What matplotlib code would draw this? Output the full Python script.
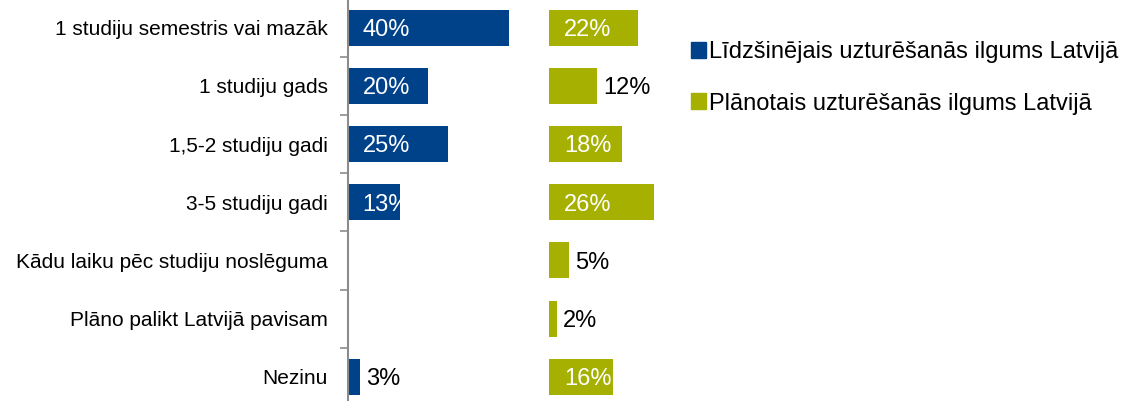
import matplotlib
matplotlib.use("Agg")
import matplotlib.pyplot as plt
import numpy as np
from matplotlib.patches import Patch

plt.rcParams['font.family'] = ['Liberation Sans', 'DejaVu Sans']

categories = ["1 studiju semestris vai mazāk", "1 studiju gads", "1,5-2 studiju gadi",
              "3-5 studiju gadi", "Kādu laiku pēc studiju noslēguma",
              "Plāno palikt Latvijā pavisam", "Nezinu"]
past = [40, 20, 25, 13, 0, 0, 3]        # Līdzšinējais
planned = [22, 12, 18, 26, 5, 2, 16]    # Plānotais
series_names = ["Līdzšinējais uzturēšanās ilgums Latvijā",
                "Plānotais uzturēšanās ilgums Latvijā"]

blue = "#00428A"
green = "#A5B000"
offset = 50  # green group starts here on the shared axis

fig = plt.figure(figsize=(11.27, 4.01), dpi=100)
W, H = 1127, 401
slot = 58.2
top = -1.5
ax = fig.add_axes([347.5 / W, 1 - (top + 7 * slot) / H, 403 / W, 7 * slot / H])
ax.set_xlim(0, 100)
ax.set_ylim(7, 0)

y = np.arange(len(categories)) + 0.5
bars1 = ax.barh(y, past, height=0.62, color=blue, left=0)
bars2 = ax.barh(y, planned, height=0.62, color=green, left=offset)

px = 100 / 403.0  # data units per pixel
for bars, vals, start in [(bars1, past, 0), (bars2, planned, offset)]:
    for b, v, yy in zip(bars, vals, y):
        if v == 0:
            continue
        if v >= 13:
            t = ax.text(start + 15 * px, yy, f"{v}%", color="white", fontsize=17,
                        ha="left", va="center_baseline")
            t.set_clip_path(b)
        else:
            ax.text(start + v + 6 * px, yy, f"{v}%", color="black", fontsize=17,
                    ha="left", va="center_baseline")

ax.set_yticks(np.arange(8))
ax.set_yticklabels([])
ax.set_yticks(y, minor=True)
ax.set_yticklabels(categories, minor=True, fontsize=15)
ax.tick_params(axis="y", which="major", length=6, width=1.2, color="#8c8c8c", direction="out")
ax.tick_params(axis="y", which="minor", length=0, pad=14)
ax.set_xticks([])
for s in ["top", "right", "bottom"]:
    ax.spines[s].set_visible(False)
ax.spines["left"].set_color("#8c8c8c")
ax.spines["left"].set_linewidth(1.5)

handles = [Patch(color=blue), Patch(color=green)]
fig.legend(handles, series_names, loc="upper left", bbox_to_anchor=(691 / W, 1 - 41 / H),
           frameon=False, fontsize=17, handlelength=0.65, handleheight=0.65,
           handletextpad=0.12, labelspacing=1.25, borderpad=0, borderaxespad=0)

fig.savefig("out.png", dpi=100)
